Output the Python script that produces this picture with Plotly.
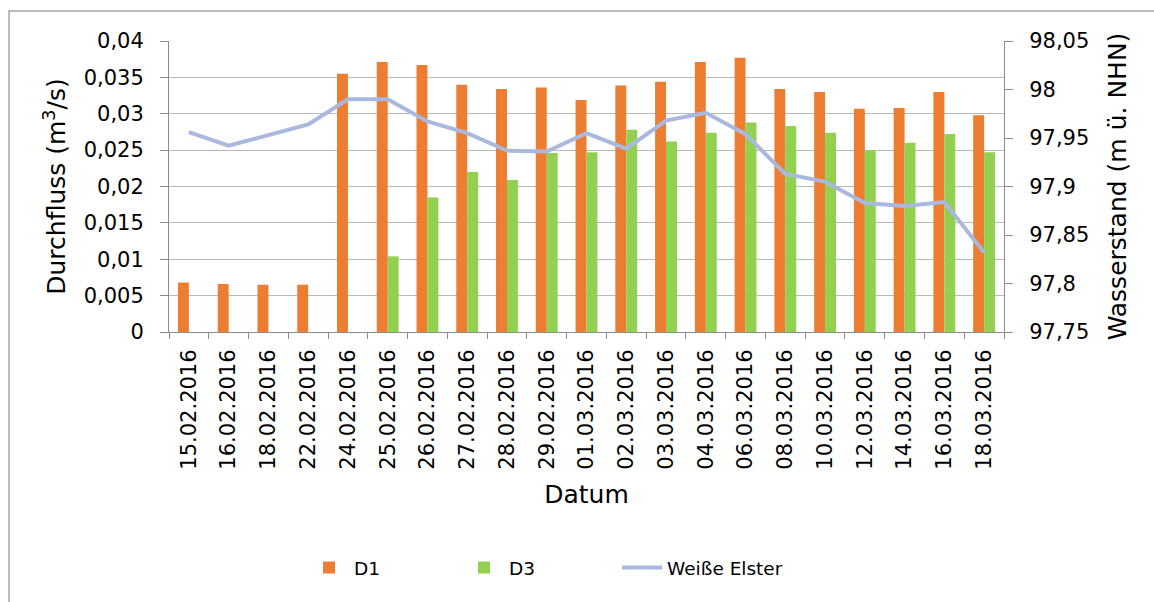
import plotly.graph_objects as go

dates = ["15.02.2016", "16.02.2016", "18.02.2016", "22.02.2016", "24.02.2016",
         "25.02.2016", "26.02.2016", "27.02.2016", "28.02.2016", "29.02.2016",
         "01.03.2016", "02.03.2016", "03.03.2016", "04.03.2016", "06.03.2016",
         "08.03.2016", "10.03.2016", "12.03.2016", "14.03.2016", "16.03.2016",
         "18.03.2016"]

d1 = [0.0068, 0.0066, 0.0065, 0.0065, 0.0355, 0.0371, 0.0367, 0.0340, 0.0334,
      0.0336, 0.0319, 0.0339, 0.0344, 0.0371, 0.0377, 0.0334, 0.0330, 0.0307,
      0.0308, 0.0330, 0.0298]

d3 = [None, None, None, None, None, 0.0104, 0.0185, 0.0220, 0.0209, 0.0246,
      0.0247, 0.0278, 0.0262, 0.0274, 0.0288, 0.0283, 0.0274, 0.0250, 0.0260,
      0.0272, 0.0247]

weisse_elster = [97.956, 97.942, 97.953, 97.964, 97.990, 97.990, 97.967, 97.955,
                 97.937, 97.936, 97.955, 97.939, 97.968, 97.976, 97.954, 97.913,
                 97.905, 97.883, 97.880, 97.884, 97.832]

FONT = "DejaVu Sans"
AXIS = "#8c8c8c"
GRID = "#b8b8b8"

W, H = 1154, 602
L, R, T, B = 169, 150, 41, 270
pw, ph = W - L - R, H - T - B

fig = go.Figure()
fig.add_trace(go.Bar(x=dates, y=d1, name="D1", legend="legend",
                     marker=dict(color="#ED7D31", line=dict(width=0))))
fig.add_trace(go.Bar(x=dates, y=d3, name="D3", legend="legend2",
                     marker=dict(color="#92D050", line=dict(width=0))))
fig.add_trace(go.Scatter(x=dates, y=weisse_elster, name="Weiße Elster", yaxis="y2",
                         legend="legend3", mode="lines",
                         line=dict(color="#A9B8DE", width=4)))

leg_y = -(568 - (H - B)) / ph


def leg(px):
    return dict(orientation="h", x=(px - L) / pw, xanchor="left", y=leg_y,
                yanchor="middle", font=dict(size=18.5), itemwidth=40,
                bgcolor="rgba(0,0,0,0)")


fig.update_layout(
    width=W, height=H,
    margin=dict(l=L, r=R, t=T, b=B),
    paper_bgcolor="white", plot_bgcolor="white",
    font=dict(family=FONT, size=21, color="#000000"),
    separators=",.",
    barmode="group", bargap=0.45, bargroupgap=0,
    showlegend=True,
    legend=leg(304),
    legend2=leg(459),
    legend3=leg(617),
    xaxis=dict(
        type="category", tickangle=-90, showline=True, linecolor=AXIS, linewidth=1,
        ticks="outside", ticklen=6, tickcolor=AXIS, tickson="boundaries",
        showgrid=False, title=dict(text="Datum", standoff=16),
        ticklabelstandoff=8,
    ),
    yaxis=dict(
        range=[0, 0.04], dtick=0.005, showline=True, linecolor=AXIS, linewidth=1,
        ticks="outside", ticklen=8, tickcolor=AXIS, showgrid=True, gridcolor=GRID,
        gridwidth=1, zeroline=False,
        title=dict(text="Durchfluss (m<sup>3</sup>/s)", standoff=10),
        ticklabelstandoff=12,
    ),
    yaxis2=dict(
        range=[97.75, 98.05], dtick=0.05, overlaying="y", side="right",
        showline=True, linecolor=AXIS, linewidth=1, ticks="outside", ticklen=8,
        tickcolor=AXIS, showgrid=False, zeroline=False,
        title=dict(text="Wasserstand (m ü. NHN)", standoff=20),
        ticklabelstandoff=12,
    ),
    shapes=[dict(type="rect", xref="paper", yref="paper",
                 x0=(9 - L) / pw, x1=(W + 10 - L) / pw,
                 y0=-(H + 10 - (H - B)) / ph, y1=(H - B - 11) / ph,
                 line=dict(color="#a6a6a6", width=1.5), fillcolor="rgba(0,0,0,0)",
                 layer="below")],
)

fig.write_html("out.html", config={"displayModeBar": False},
               post_script="document.body.style.margin='0px';")
